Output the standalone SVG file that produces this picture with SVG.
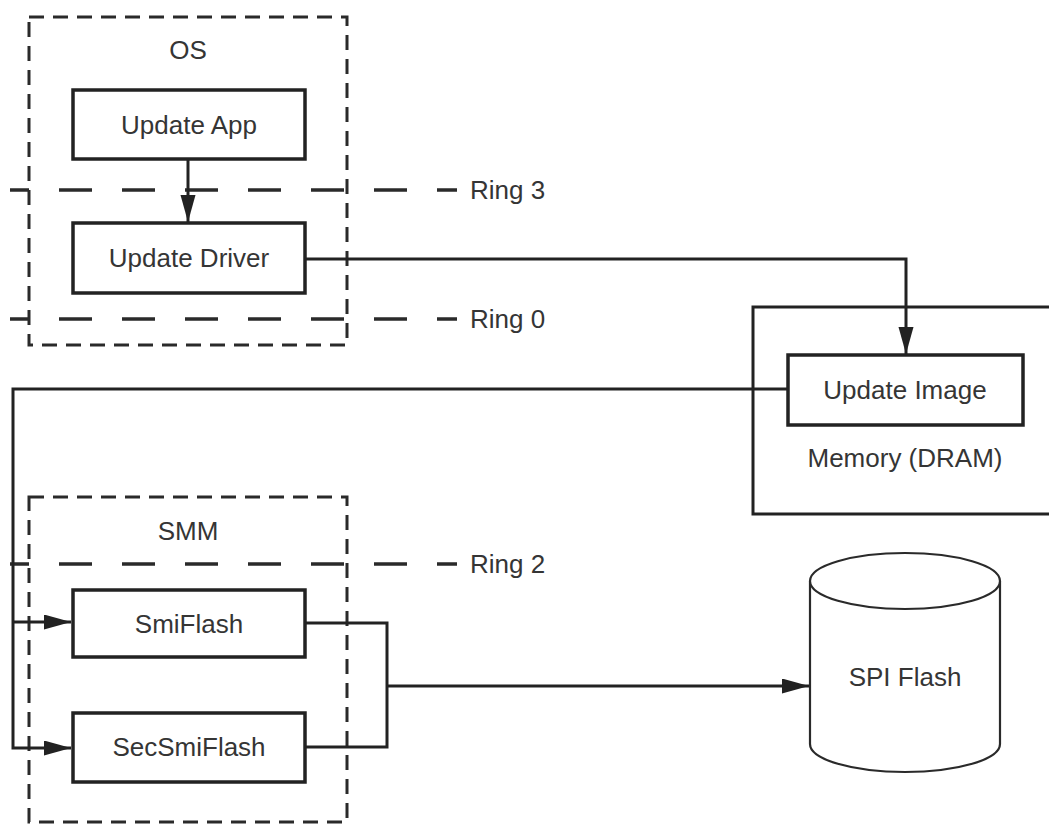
<svg xmlns="http://www.w3.org/2000/svg" width="1049" height="825" viewBox="0 0 1049 825">
<style>
text{font-family:"Liberation Sans",Arial,sans-serif;font-size:26px;fill:#353535;text-anchor:middle}
.lbl{text-anchor:start}
.box{fill:#fff;stroke:#222;stroke-width:3.5}
.zone{fill:none;stroke:#2a2a2a;stroke-width:3;stroke-dasharray:15 9}
.ring{fill:none;stroke:#2a2a2a;stroke-width:3.5;stroke-dasharray:33 30;stroke-dashoffset:14}
.conn{fill:none;stroke:#222;stroke-width:3}
.arr{marker-end:url(#ah)}
.cyl{fill:#fff;stroke:#2a2a2a;stroke-width:2.2}
</style>
<defs>
<marker id="ah" markerUnits="userSpaceOnUse" markerWidth="28" markerHeight="16" refX="27" refY="7.5" orient="auto">
<path d="M0,0 L27,7.5 L0,15 z" fill="#222"/>
</marker>
</defs>
<rect width="1049" height="825" fill="#fff"/>

<g id="os-zone">
<rect class="zone" x="29" y="17" width="318" height="328"/>
<text x="188" y="59">OS</text>
</g>
<g id="smm-zone">
<rect class="zone" x="29" y="497" width="318" height="325"/>
<text x="188" y="540">SMM</text>
</g>

<g id="memory">
<path class="conn" d="M1052,307 H753 V514 H1052"/>
<text x="905" y="467">Memory (DRAM)</text>
</g>

<g id="rings">
<line class="ring" x1="10" y1="190" x2="457" y2="190"/>
<text class="lbl" x="470" y="199">Ring 3</text>
<line class="ring" x1="10" y1="319" x2="457" y2="319"/>
<text class="lbl" x="470" y="328">Ring 0</text>
<line class="ring" x1="10" y1="564" x2="457" y2="564"/>
<text class="lbl" x="470" y="573">Ring 2</text>
</g>

<g id="connectors">
<line class="conn arr" x1="188" y1="159" x2="188" y2="222"/>
<path class="conn arr" d="M305,259 H906 V354"/>
<path class="conn arr" d="M788,389 H13 V748 H71"/>
<line class="conn arr" x1="13" y1="622" x2="71" y2="622"/>
<path class="conn" d="M305,623 H387 V747 H305"/>
<line class="conn arr" x1="387" y1="686" x2="809" y2="686"/>
</g>

<g id="update-app">
<rect class="box" x="73" y="90" width="232" height="69"/>
<text x="189" y="134">Update App</text>
</g>
<g id="update-driver">
<rect class="box" x="73" y="223" width="232" height="70"/>
<text x="189" y="267">Update Driver</text>
</g>
<g id="update-image">
<rect class="box" x="788" y="355" width="235" height="70"/>
<text x="905" y="399">Update Image</text>
</g>
<g id="smiflash">
<rect class="box" x="73" y="590" width="232" height="67"/>
<text x="189" y="633">SmiFlash</text>
</g>
<g id="secsmiflash">
<rect class="box" x="73" y="713" width="232" height="69"/>
<text x="189" y="756">SecSmiFlash</text>
</g>
<g id="spi-flash">
<path class="cyl" d="M810,581 V744 A95,28 0 0 0 1000,744 V581"/>
<ellipse class="cyl" cx="905" cy="581" rx="95" ry="28"/>
<text x="905" y="686">SPI Flash</text>
</g>
</svg>
